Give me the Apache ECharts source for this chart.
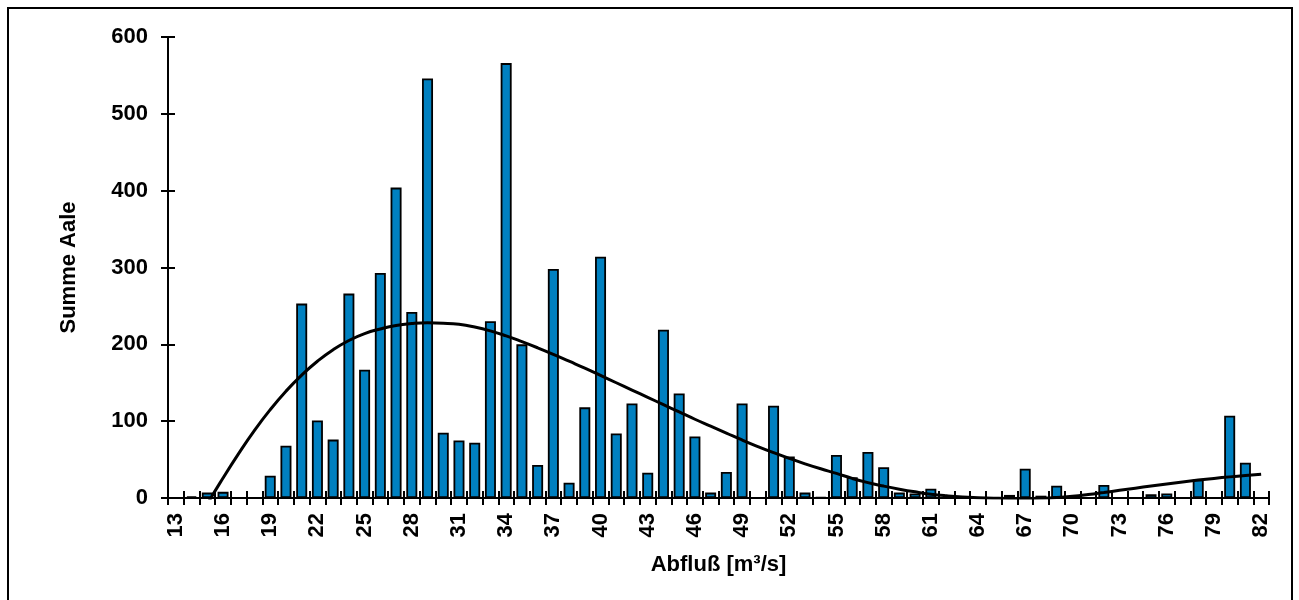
<!DOCTYPE html>
<html>
<head>
<meta charset="utf-8">
<script src="https://cdn.jsdelivr.net/npm/echarts@6/dist/echarts.min.js"></script>
<style>
  html, body { margin: 0; padding: 0; background: #fff; }
  #chart { width: 1299px; height: 600px; }
</style>
</head>
<body>
<div id="chart"></div>
<script>
// Abfluß classes in m³/s (13 … 82)
const abfluss = [];
for (let q = 13; q <= 82; q++) abfluss.push(String(q));

// Summe Aale per Abfluß class
const summeAale = [
  0, 2, 7, 8, 0, 0, 29, 68, 253, 101,           // 13–22
  76, 266, 167, 293, 404, 242, 546, 85, 75, 72,  // 23–32
  230, 566, 200, 43, 298, 20, 118, 314, 84, 123, // 33–42
  33, 219, 136, 80, 7, 34, 123, 0, 120, 54,      // 43–52
  7, 1, 56, 27, 60, 40, 7, 6, 12, 0,             // 53–62
  0, 0, 0, 4, 38, 3, 16, 0, 0, 17,               // 63–72
  0, 0, 5, 6, 0, 24, 0, 107, 46, 0               // 73–82
];

// Polynomial trend curve, sampled per class (clipped at the x axis)
const trend = [
  -85, -45, -8, 26, 58, 88, 115, 139, 160, 178,            // 13–22
  193, 205, 214, 220, 224.5, 227, 228, 227.5, 226, 222.5,  // 23–32
  217.5, 211, 203.5, 195.5, 187, 178, 169, 159.5, 150, 140.5, // 33–42
  131, 121.5, 112, 102.5, 93.5, 84.5, 75.5, 67, 59, 51.5,  // 43–52
  44.5, 38, 32, 25.5, 20, 15.5, 11.5, 8, 5, 2.8,           // 53–62
  1.2, 0.3, -0.3, -0.6, -0.6, -0.3, 0.6, 2.2, 4.5, 7.2,    // 63–72
  10, 12.8, 15.6, 18.3, 20.9, 23.3, 25.5, 27.5, 29.3, 31   // 73–82
];

const yTicks = { min: 0, max: 600, interval: 100 };

const fontBase = {
  fontFamily: '"Liberation Sans", Arial, sans-serif',
  fontWeight: 'bold',
  fontSize: 22,
  color: '#000'
};

const chart = echarts.init(document.getElementById('chart'), null, { renderer: 'canvas' });

chart.setOption({
  animation: false,
  backgroundColor: '#fff',
  graphic: [{
    type: 'rect',
    shape: { x: 8, y: 8, width: 1284, height: 600 },
    style: { fill: 'none', stroke: '#000', lineWidth: 2 },
    silent: true,
    z: 100
  }],
  grid: { left: 168, right: 30, top: 37, bottom: 102, containLabel: false },
  xAxis: [{
    type: 'category',
    data: abfluss,
    boundaryGap: true,
    name: 'Abfluß [m³/s]',
    nameLocation: 'middle',
    nameGap: 56,
    nameTextStyle: fontBase,
    axisLine: { show: true, lineStyle: { color: '#000', width: 2 } },
    axisTick: { show: true, interval: 0, length: 7, lineStyle: { color: '#000', width: 2 } },
    axisLabel: Object.assign({ interval: 2, rotate: 90, margin: 15 }, fontBase),
    splitLine: { show: false }
  }, {
    // inner half of the crossing tick marks
    type: 'category',
    data: abfluss,
    position: 'bottom',
    boundaryGap: true,
    axisLine: { show: false },
    axisTick: { show: true, inside: true, interval: 0, length: 7, lineStyle: { color: '#000', width: 2 } },
    axisLabel: { show: false },
    splitLine: { show: false }
  }],
  yAxis: [{
    type: 'value',
    min: yTicks.min, max: yTicks.max, interval: yTicks.interval,
    name: 'Summe Aale',
    nameLocation: 'middle',
    nameGap: 88,
    nameRotate: 90,
    nameTextStyle: fontBase,
    axisLine: { show: true, lineStyle: { color: '#000', width: 2 } },
    axisTick: { show: true, length: 7, lineStyle: { color: '#000', width: 2 } },
    axisLabel: Object.assign({ margin: 20 }, fontBase),
    splitLine: { show: false }
  }, {
    type: 'value',
    position: 'left',
    min: yTicks.min, max: yTicks.max, interval: yTicks.interval,
    axisLine: { show: false },
    axisTick: { show: true, inside: true, length: 7, lineStyle: { color: '#000', width: 2 } },
    axisLabel: { show: false },
    splitLine: { show: false }
  }],
  series: [{
    name: 'Summe Aale',
    type: 'bar',
    data: summeAale,
    barWidth: 11,
    itemStyle: { color: 'rgb(0,128,192)', borderColor: '#000', borderWidth: 1.8 },
    z: 2
  }, {
    name: 'Trend',
    type: 'line',
    data: trend,
    smooth: true,
    symbol: 'none',
    clip: true,
    lineStyle: { color: '#000', width: 3 },
    z: 3
  }]
});
</script>
</body>
</html>
